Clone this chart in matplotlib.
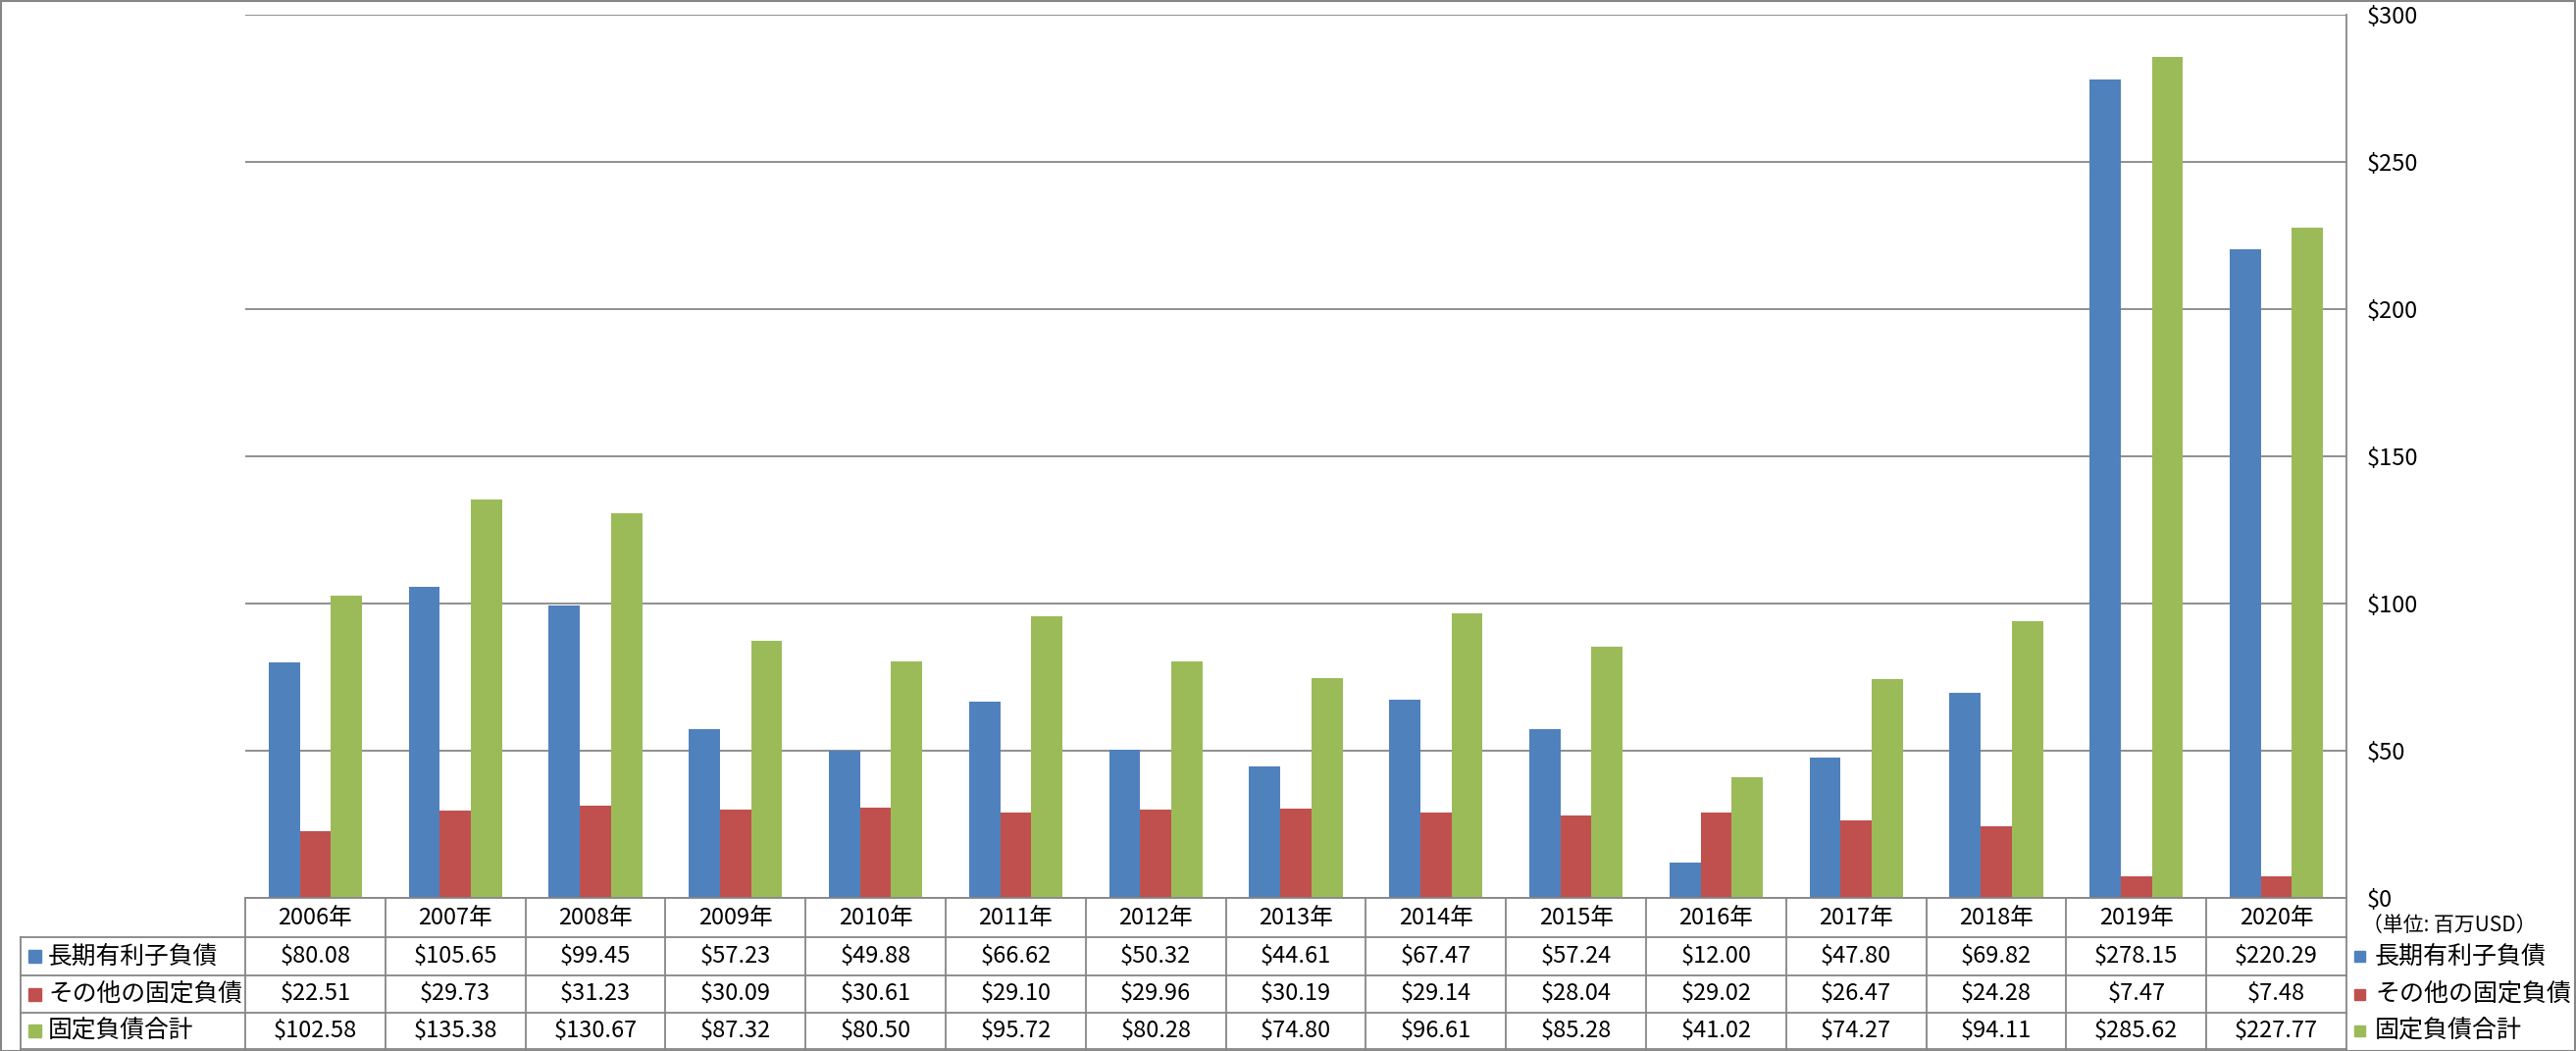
import matplotlib
matplotlib.use("Agg")
import matplotlib.pyplot as plt
import matplotlib.transforms as mtrans
from matplotlib.patches import Rectangle
import numpy as np

plt.rcParams['font.family'] = ['Noto Sans CJK JP', 'DejaVu Sans']

# data (million USD)
years = ["2006年", "2007年", "2008年", "2009年", "2010年", "2011年", "2012年", "2013年",
         "2014年", "2015年", "2016年", "2017年", "2018年", "2019年", "2020年"]
long_debt = [80.08, 105.65, 99.45, 57.23, 49.88, 66.62, 50.32, 44.61, 67.47, 57.24,
             12.00, 47.80, 69.82, 278.15, 220.29]
other_fixed = [22.51, 29.73, 31.23, 30.09, 30.61, 29.10, 29.96, 30.19, 29.14, 28.04,
               29.02, 26.47, 24.28, 7.47, 7.48]
total_fixed = [102.58, 135.38, 130.67, 87.32, 80.50, 95.72, 80.28, 74.80, 96.61, 85.28,
               41.02, 74.27, 94.11, 285.62, 227.77]
series_names = ["長期有利子負債", "その他の固定負債", "固定負債合計"]
y_ticks = [0, 50, 100, 150, 200, 250, 300]
unit_label = "（単位: 百万USD）"

colors = ["#4F81BD", "#C0504D", "#9BBB59"]
grid_c = "#868686"
W, H = 2626, 1071

fig = plt.figure(figsize=(W / 100, H / 100), dpi=100)

def fy(py):
    # pixel row from top -> figure fraction
    return 1 - py / H

plot_l, plot_r, plot_t, plot_b = 250, 2392, 15, 915
ax = fig.add_axes([plot_l / W, fy(plot_b), (plot_r - plot_l) / W, (plot_b - plot_t) / H])

x = np.arange(len(years))
bw = 1 / 4.5
for i, vals in enumerate([long_debt, other_fixed, total_fixed]):
    ax.bar(x + (i - 1) * bw, vals, bw, color=colors[i], zorder=3)

ax.set_xlim(-0.5, len(years) - 0.5)
ax.set_ylim(0, 300)
ax.set_yticks(y_ticks)
ax.yaxis.tick_right()
ax.set_yticklabels(["${}".format(v) for v in y_ticks], fontsize=17)
ax.tick_params(axis='y', length=0, pad=15)
ax.set_xticks([])
ax.grid(axis='y', color=grid_c, lw=1.3, zorder=0)
for s in ["top", "left", "bottom"]:
    ax.spines[s].set_visible(False)
ax.spines["right"].set_color(grid_c)
ax.spines["right"].set_linewidth(1.3)

# data table under the plot
tr = mtrans.blended_transform_factory(ax.transData, fig.transFigure)
row_y = [915, 955, 994, 1032, 1069]
label_l = 21

def hline(x0, x1, y):
    fig.add_artist(plt.Line2D([x0, x1], [fy(y), fy(y)], color=grid_c, lw=1.3,
                              transform=fig.transFigure))

hline(plot_l / W, plot_r / W, row_y[0])
for y in row_y[1:]:
    hline(label_l / W, plot_r / W, y)
for k in range(len(years) + 1):
    fig.add_artist(plt.Line2D([k - 0.5, k - 0.5], [fy(row_y[0]), fy(row_y[-1])],
                              color=grid_c, lw=1.3, transform=tr))
fig.add_artist(plt.Line2D([label_l / W] * 2, [fy(row_y[1]), fy(row_y[-1])],
                          color=grid_c, lw=1.3, transform=fig.transFigure))

for k, yr in enumerate(years):
    fig.text(k, fy((row_y[0] + row_y[1]) / 2), yr, transform=tr, ha='center',
             va='center', fontsize=17)
for r, vals in enumerate([long_debt, other_fixed, total_fixed]):
    yc = fy((row_y[r + 1] + row_y[r + 2]) / 2)
    for k, v in enumerate(vals):
        fig.text(k, yc, "${:.2f}".format(v), transform=tr, ha='center', va='center',
                 fontsize=17)
    # row labels
    fig.add_artist(Rectangle((29 / W, yc - 6.5 / H), 13 / W, 13 / H,
                             color=colors[r], transform=fig.transFigure))
    fig.text(49 / W, yc, series_names[r], ha='left', va='center', fontsize=17.8)
    # legend at right
    fig.add_artist(Rectangle((2400 / W, yc - 5.5 / H), 11 / W, 11 / H,
                             color=colors[r], transform=fig.transFigure))
    fig.text(2421 / W, yc, series_names[r], ha='left', va='center', fontsize=18)

fig.text(2408 / W, fy(943), unit_label, ha='left', va='center', fontsize=15)

# outer chart border
fig.add_artist(Rectangle((0.5 / W, 0.5 / H), (W - 1.5) / W, (H - 1.5) / H, fill=False,
                         edgecolor=grid_c, lw=1.5, transform=fig.transFigure))

fig.savefig("out.png", dpi=100)
